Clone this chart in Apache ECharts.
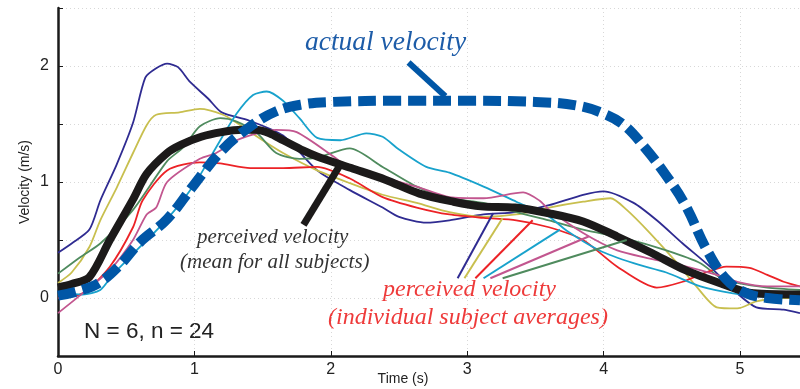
<!DOCTYPE html>
<html>
<head>
<meta charset="utf-8">
<script src="https://cdn.jsdelivr.net/npm/echarts@6/dist/echarts.min.js"></script>
<style>
  html, body { margin: 0; padding: 0; background: #fff; }
  #chart { width: 800px; height: 389px; }
</style>
</head>
<body>
<div id="chart"></div>
<script>
// actual stimulus velocity (dashed blue)
var actualT = [0, 0.15, 0.3, 0.45, 0.6, 0.8, 1.0, 1.2, 1.4, 1.6, 1.8, 2.0, 2.5, 3.0, 3.5, 3.8, 4.0, 4.15, 4.3, 4.45, 4.6, 4.75, 4.9, 5.05, 5.2, 5.44];
var actualV = [0.02, 0.06, 0.13, 0.28, 0.48, 0.68, 0.98, 1.27, 1.47, 1.61, 1.67, 1.69, 1.70, 1.70, 1.69, 1.66, 1.59, 1.49, 1.30, 1.07, 0.80, 0.43, 0.16, 0.04, 0.0, -0.02];

// mean perceived velocity (thick black)
var meanT = [0, 0.1, 0.23, 0.38, 0.55, 0.65, 0.8, 0.9, 1.05, 1.2, 1.35, 1.45, 1.55, 1.65, 1.8, 1.9, 2.15, 2.4, 2.65, 2.9, 3.1, 3.35, 3.6, 3.85, 4.1, 4.35, 4.6, 4.85, 5.1, 5.44];
var meanV = [0.09, 0.12, 0.18, 0.5, 0.85, 1.07, 1.25, 1.32, 1.39, 1.43, 1.45, 1.45, 1.42, 1.36, 1.27, 1.22, 1.12, 1.02, 0.9, 0.83, 0.79, 0.78, 0.73, 0.66, 0.53, 0.39, 0.24, 0.13, 0.04, 0.03];

// individual subjects
var navyT = [0, 0.1, 0.23, 0.31, 0.43, 0.55, 0.64, 0.72, 0.8, 0.88, 0.97, 1.1, 1.2, 1.4, 1.65, 1.9, 2.14, 2.38, 2.5, 2.7, 2.87, 3.12, 3.36, 3.6, 3.85, 4.0, 4.22, 4.39, 4.58, 4.78, 4.98, 5.12, 5.32, 5.44];
var navyV = [0.39, 0.47, 0.59, 0.84, 1.15, 1.51, 1.9, 1.98, 2.02, 1.99, 1.86, 1.72, 1.6, 1.53, 1.4, 1.1, 0.93, 0.78, 0.7, 0.65, 0.67, 0.72, 0.74, 0.8, 0.89, 0.92, 0.82, 0.67, 0.47, 0.27, 0.04, -0.08, -0.1, -0.13];

var yellowT = [0, 0.1, 0.23, 0.31, 0.43, 0.55, 0.65, 0.72, 0.89, 1.04, 1.21, 1.31, 1.5, 1.65, 1.9, 2.14, 2.38, 2.63, 2.87, 3.12, 3.36, 3.6, 3.85, 4.05, 4.17, 4.34, 4.54, 4.68, 4.83, 4.98, 5.12, 5.3, 5.44];
var yellowV = [0.13, 0.22, 0.44, 0.67, 0.95, 1.25, 1.49, 1.58, 1.6, 1.63, 1.58, 1.51, 1.36, 1.25, 1.1, 0.99, 0.89, 0.82, 0.74, 0.7, 0.72, 0.78, 0.83, 0.86, 0.76, 0.56, 0.3, 0.1, -0.08, -0.09, -0.03, 0.0, 0.0];

var greenT = [0, 0.16, 0.31, 0.55, 0.8, 0.92, 1.04, 1.19, 1.31, 1.46, 1.6, 1.77, 1.9, 2.14, 2.38, 2.63, 2.87, 3.12, 3.36, 3.6, 3.85, 4.17, 4.46, 4.71, 4.85, 4.98, 5.2, 5.44];
var greenV = [0.21, 0.35, 0.47, 0.76, 1.18, 1.3, 1.48, 1.55, 1.52, 1.42, 1.25, 1.2, 1.21, 1.29, 1.13, 0.96, 0.86, 0.82, 0.74, 0.67, 0.59, 0.51, 0.41, 0.3, 0.18, 0.13, 0.09, 0.07];

var redT = [0, 0.18, 0.38, 0.55, 0.62, 0.8, 1.04, 1.19, 1.41, 1.65, 1.9, 2.14, 2.38, 2.63, 2.87, 3.12, 3.36, 3.6, 3.85, 4.1, 4.39, 4.58, 4.75, 4.9, 5.07, 5.2, 5.32, 5.44];
var redV = [0.0, 0.04, 0.27, 0.61, 0.84, 1.1, 1.17, 1.16, 1.12, 1.12, 1.13, 1.03, 0.87, 0.78, 0.72, 0.69, 0.67, 0.61, 0.5, 0.27, 0.09, 0.14, 0.22, 0.27, 0.26, 0.2, 0.14, 0.1];

var cyanT = [0, 0.18, 0.31, 0.4, 0.55, 0.8, 1.0, 1.16, 1.31, 1.43, 1.53, 1.65, 1.77, 1.9, 2.07, 2.26, 2.38, 2.5, 2.7, 2.87, 3.12, 3.36, 3.6, 3.73, 3.97, 4.22, 4.46, 4.71, 4.95, 5.2, 5.44];
var cyanV = [0.04, 0.03, 0.07, 0.2, 0.38, 0.68, 0.98, 1.3, 1.59, 1.75, 1.78, 1.7, 1.55, 1.38, 1.36, 1.42, 1.39, 1.28, 1.13, 1.08, 0.96, 0.83, 0.7, 0.58, 0.41, 0.3, 0.22, 0.1, 0.04, 0.01, 0.01];

var pinkT = [0, 0.18, 0.38, 0.55, 0.65, 0.72, 0.8, 1.04, 1.16, 1.31, 1.46, 1.6, 1.75, 2.02, 2.14, 2.38, 2.63, 2.87, 3.12, 3.41, 3.53, 3.6, 3.85, 4.1, 4.34, 4.58, 4.83, 4.98, 5.2, 5.44];
var pinkV = [-0.13, 0.04, 0.24, 0.5, 0.72, 0.78, 1.0, 1.2, 1.25, 1.36, 1.42, 1.45, 1.43, 1.22, 1.12, 1.04, 0.96, 0.87, 0.86, 0.91, 0.84, 0.76, 0.56, 0.41, 0.34, 0.28, 0.2, 0.14, 0.1, 0.1];

// pointer lines for the annotations, [t, v] start and end
var pointerActual = [[2.57, 2.03], [2.84, 1.74]];
var pointerMean = [[1.80, 0.63], [2.07, 1.15]];
var pointerNavy = [[2.93, 0.17], [3.19, 0.73]];
var pointerYellow = [[2.98, 0.17], [3.26, 0.69]];
var pointerRed = [[3.06, 0.17], [3.48, 0.67]];
var pointerCyan = [[3.12, 0.17], [3.68, 0.59]];
var pointerPink = [[3.17, 0.17], [3.89, 0.53]];
var pointerGreen = [[3.26, 0.17], [4.17, 0.50]];

function pairs(t, v) {
  return t.map(function (x, i) { return [x, v[i]]; });
}

var myChart = echarts.init(document.getElementById('chart'));

function subject(t, v, color) {
  return {
    type: 'line', data: pairs(t, v), smooth: 0.25, symbol: 'none', silent: true,
    lineStyle: { color: color, width: 1.8 }, z: 2
  };
}
function pointer(pts, color, width) {
  return {
    type: 'line', data: pts, symbol: 'none', silent: true,
    lineStyle: { color: color, width: width, cap: 'butt' }, z: 5
  };
}

var option = {
  animation: false,
  grid: { left: 58, right: 0, top: 8, bottom: 33, outerBoundsMode: 'none', containLabel: false },
  xAxis: {
    type: 'value', min: 0, max: 5.44, interval: 1,
    name: 'Time (s)', nameLocation: 'middle', nameGap: 16, nameMoveOverlap: false,
    nameTextStyle: { fontFamily: 'Liberation Sans', fontSize: 14, color: '#222', padding: [0, 52, 0, 0] },
    axisLine: { onZero: false, lineStyle: { color: '#1a1a1a', width: 2.5 } },
    axisTick: { inside: true, length: 5, lineStyle: { color: '#1a1a1a', width: 1 } },
    axisLabel: {
      fontFamily: 'Liberation Sans', fontSize: 16, color: '#222', margin: 6,
      formatter: function (v) { return Number.isInteger(v) ? String(v) : ''; }
    },
    splitLine: { show: true, lineStyle: { color: '#d8d8d8', type: [1, 3], width: 1 } }
  },
  yAxis: {
    type: 'value', min: -0.5, max: 2.5, interval: 0.5,
    name: 'Velocity (m/s)', nameLocation: 'middle', nameGap: 26, nameMoveOverlap: false,
    nameTextStyle: { fontFamily: 'Liberation Sans', fontSize: 14, color: '#222' },
    axisLine: { show: true, onZero: false, lineStyle: { color: '#1a1a1a', width: 2.5 } },
    axisTick: { show: true, inside: true, length: 5, lineStyle: { color: '#1a1a1a', width: 1 } },
    axisLabel: {
      fontFamily: 'Liberation Sans', fontSize: 16, color: '#222', margin: 9,
      formatter: function (v) { return Number.isInteger(v) ? String(v) : ''; }
    },
    splitLine: { show: true, lineStyle: { color: '#d8d8d8', type: [1, 3], width: 1 } }
  },
  graphic: [
    { type: 'text', left: 305, top: 29, silent: true,
      style: { text: 'actual velocity', fill: '#1d5ca8', font: 'italic 27.5px "Liberation Serif"' } },
    { type: 'text', left: 197, top: 227, silent: true,
      style: { text: 'perceived velocity', fill: '#333', font: 'italic 21px "Liberation Serif"' } },
    { type: 'text', left: 180, top: 252, silent: true,
      style: { text: '(mean for all subjects)', fill: '#333', font: 'italic 21px "Liberation Serif"' } },
    { type: 'text', left: 383, top: 278, silent: true,
      style: { text: 'perceived velocity', fill: '#ee3a3a', font: 'italic 24px "Liberation Serif"' } },
    { type: 'text', left: 328, top: 306, silent: true,
      style: { text: '(individual subject averages)', fill: '#ee3a3a', font: 'italic 24px "Liberation Serif"' } },
    { type: 'text', left: 84, top: 320, silent: true,
      style: { text: 'N = 6, n = 24', fill: '#222', font: '22.5px "Liberation Sans"' } }
  ],
  series: [
    subject(navyT, navyV, '#2f2b91'),
    subject(yellowT, yellowV, '#c8bf4e'),
    subject(greenT, greenV, '#4f8b5e'),
    subject(redT, redV, '#ec2226'),
    subject(cyanT, cyanV, '#18a2cc'),
    subject(pinkT, pinkV, '#c2568f'),
    {
      type: 'line', data: pairs(meanT, meanV), smooth: 0.3, symbol: 'none', silent: true,
      lineStyle: { color: '#1c1a1a', width: 8 }, z: 3
    },
    {
      type: 'line', data: pairs(actualT, actualV), smooth: 0.4, symbol: 'none', silent: true,
      lineStyle: { color: '#0056a6', width: 10, type: [18, 7], cap: 'butt' }, z: 4
    },
    pointer(pointerActual, '#0056a6', 6),
    pointer(pointerMean, '#1c1a1a', 7),
    pointer(pointerNavy, '#2f2b91', 2),
    pointer(pointerYellow, '#c8bf4e', 2),
    pointer(pointerRed, '#ec2226', 2),
    pointer(pointerCyan, '#18a2cc', 2),
    pointer(pointerPink, '#c2568f', 2),
    pointer(pointerGreen, '#4f8b5e', 2)
  ]
};
myChart.setOption(option);
</script>
</body>
</html>
